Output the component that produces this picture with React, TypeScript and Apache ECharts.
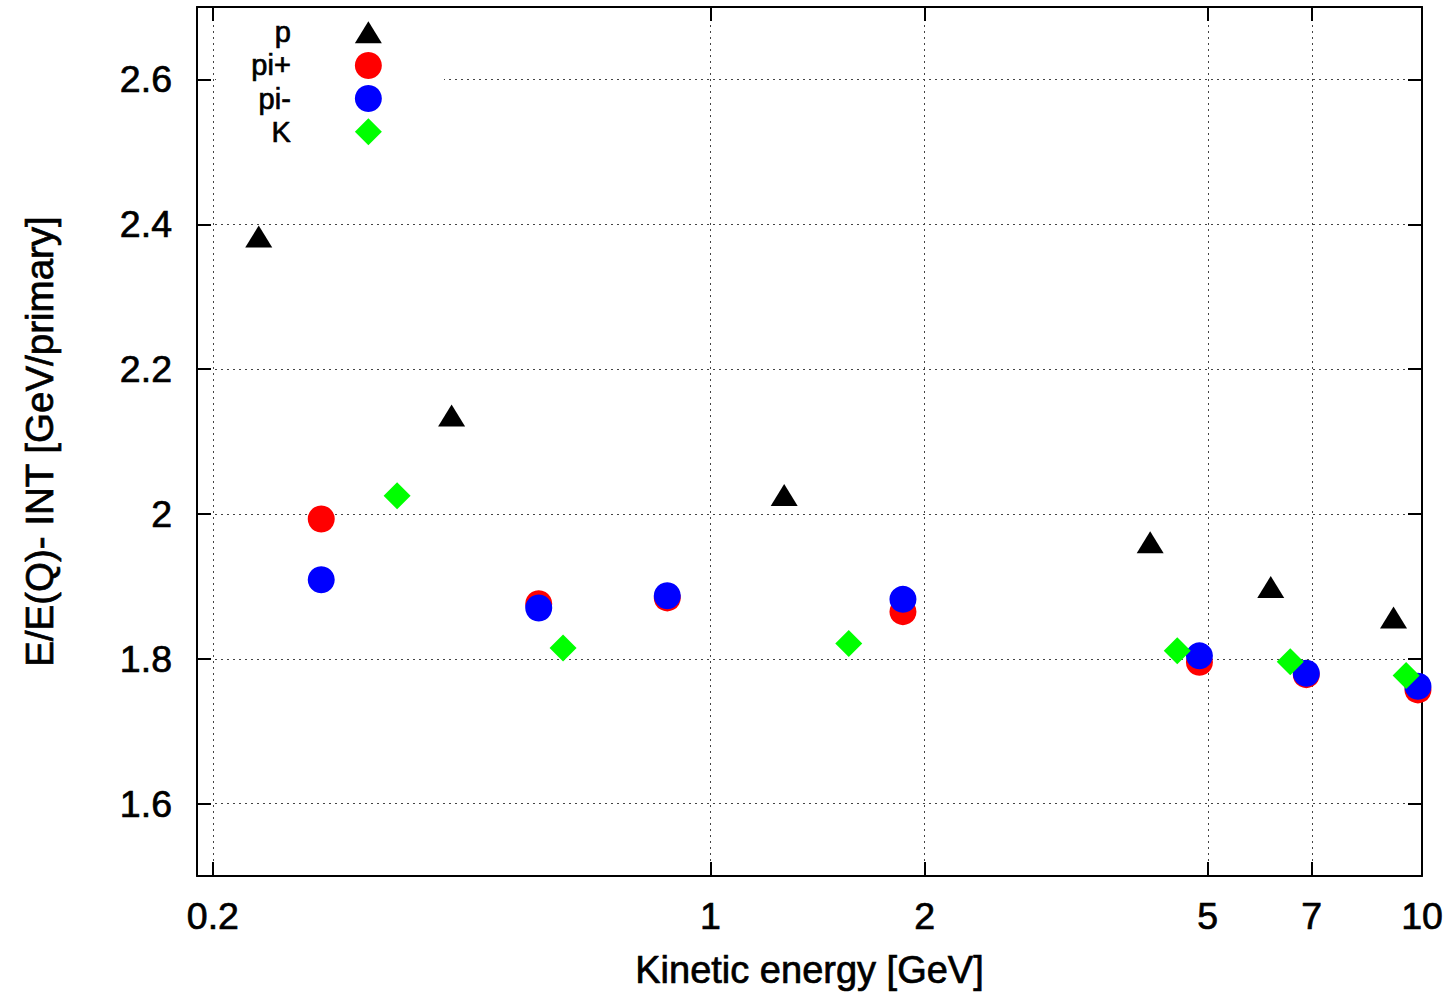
import React, { useEffect, useRef } from "react";
import * as echarts from "echarts";

// Particle species shown in the legend
const seriesNames = ["p", "pi+", "pi-", "K"];

// Kinetic energy [GeV] and E/E(Q) - INT [GeV/primary] for each species
const pEnergy = [0.232, 0.433, 1.27, 4.15, 6.13, 9.12];
const pValue = [2.383, 2.136, 2.026, 1.961, 1.899, 1.857];

const piPlusEnergy = [0.284, 0.574, 0.87, 1.865, 4.867, 6.877, 9.87];
const piPlusValue = [1.993, 1.876, 1.884, 1.865, 1.795, 1.778, 1.757];

const piMinusEnergy = [0.284, 0.574, 0.87, 1.865, 4.867, 6.877, 9.87];
const piMinusValue = [1.909, 1.87, 1.887, 1.882, 1.804, 1.78, 1.762];

const kEnergy = [0.363, 0.621, 1.565, 4.53, 6.53, 9.5];
const kValue = [2.025, 1.815, 1.821, 1.811, 1.796, 1.777];

// Axis ticks
const xTicks = [0.2, 1, 2, 5, 7, 10];
const yTicks = [1.6, 1.8, 2, 2.2, 2.4, 2.6];

const FONT = "'Liberation Sans', Arial, Helvetica, sans-serif";

const pairs = (xs: number[], ys: number[]) => xs.map((x, i) => [x, ys[i]]);

// slightly heavier glyphs, like the terminal's text rendering
const heavy = { textBorderColor: "#000", textBorderWidth: 0.7 };

const frameLine = { show: true, onZero: false, lineStyle: { color: "#000", width: 2 } };
const gridLine = { show: true, lineStyle: { color: "#444", width: 1, type: [2, 4] as number[] } };
const innerTick = (values: number[]) => ({
  show: true,
  inside: true,
  length: 14,
  customValues: values,
  lineStyle: { color: "#000", width: 2 },
});

export default function App() {
  const ref = useRef<HTMLDivElement>(null);

  useEffect(() => {
    if (!ref.current) return;
    const chart = echarts.init(ref.current, undefined, { renderer: "svg" });

    const xBase = {
      type: "log" as const,
      logBase: 10,
      min: 0.19,
      max: 10,
      axisLine: frameLine,
      minorTick: { show: false },
      minorSplitLine: { show: false },
    };
    const yBase = {
      type: "value" as const,
      min: 1.5,
      max: 2.7,
      axisLine: frameLine,
    };

    chart.setOption({
      animation: false,
      backgroundColor: "#fff",
      textStyle: { fontFamily: FONT },
      grid: { left: 197, right: 33, top: 7, bottom: 123, containLabel: false },
      legend: {
        data: [
          { name: seriesNames[0], icon: "path://M0,22L13.5,0L27,22Z" },
          { name: seriesNames[1] },
          { name: seriesNames[2] },
          { name: seriesNames[3] },
        ],
        orient: "vertical",
        left: 246,
        top: 12.5,
        align: "right",
        itemWidth: 27,
        itemHeight: 27,
        itemGap: 3.4,
        padding: 5,
        selectedMode: false,
        textStyle: {
          fontFamily: FONT,
          fontSize: 29,
          lineHeight: 27,
          color: "#000",
          padding: [0, 59, 0, 0],
          ...heavy,
        },
      },
      xAxis: [
        {
          ...xBase,
          position: "bottom",
          axisTick: innerTick(xTicks),
          axisLabel: {
            customValues: xTicks,
            formatter: (v: number) => String(+Number(v).toPrecision(3)),
            fontSize: 37.5,
            color: "#000",
            fontFamily: FONT,
            margin: 21,
            ...heavy,
          },
          splitLine: gridLine,
          name: "Kinetic energy [GeV]",
          nameLocation: "middle",
          nameGap: 75,
          nameTextStyle: { fontSize: 38, color: "#000", fontFamily: FONT, ...heavy },
        },
        {
          ...xBase,
          position: "top",
          axisTick: innerTick(xTicks),
          axisLabel: { show: false },
          splitLine: { show: false },
        },
      ],
      yAxis: [
        {
          ...yBase,
          position: "left",
          axisTick: innerTick(yTicks),
          axisLabel: {
            customValues: yTicks,
            formatter: (v: number) => String(+Number(v).toFixed(1)),
            fontSize: 37.5,
            color: "#000",
            fontFamily: FONT,
            margin: 25,
            ...heavy,
          },
          splitLine: gridLine,
          name: "E/E(Q)- INT [GeV/primary]",
          nameLocation: "middle",
          nameGap: 138,
          nameRotate: 90,
          nameTextStyle: { fontSize: 38.5, color: "#000", fontFamily: FONT, ...heavy },
        },
        {
          ...yBase,
          position: "right",
          axisTick: innerTick(yTicks),
          axisLabel: { show: false },
          splitLine: { show: false },
        },
      ],
      graphic: [
        {
          // the key area keeps the top horizontal grid line clear
          type: "rect",
          z: 1,
          shape: { x: 216, y: 76, width: 228, height: 8 },
          style: { fill: "#fff" },
          silent: true,
        },
      ],
      series: [
        {
          name: seriesNames[0],
          type: "scatter",
          symbol: "triangle",
          symbolSize: [27, 22],
          itemStyle: { color: "#000000", opacity: 1 },
          data: pairs(pEnergy, pValue),
        },
        {
          name: seriesNames[1],
          type: "scatter",
          symbol: "circle",
          symbolSize: 27,
          itemStyle: { color: "#ff0000", opacity: 1 },
          data: pairs(piPlusEnergy, piPlusValue),
        },
        {
          name: seriesNames[2],
          type: "scatter",
          symbol: "circle",
          symbolSize: 27,
          itemStyle: { color: "#0000ff", opacity: 1 },
          data: pairs(piMinusEnergy, piMinusValue),
        },
        {
          name: seriesNames[3],
          type: "scatter",
          symbol: "diamond",
          symbolSize: 27,
          itemStyle: { color: "#00ff00", opacity: 1 },
          data: pairs(kEnergy, kValue),
        },
      ],
    });

    return () => chart.dispose();
  }, []);

  return (
    <div
      ref={ref}
      style={{ position: "fixed", left: 0, top: 0, width: 1455, height: 999, background: "#fff" }}
    />
  );
}
